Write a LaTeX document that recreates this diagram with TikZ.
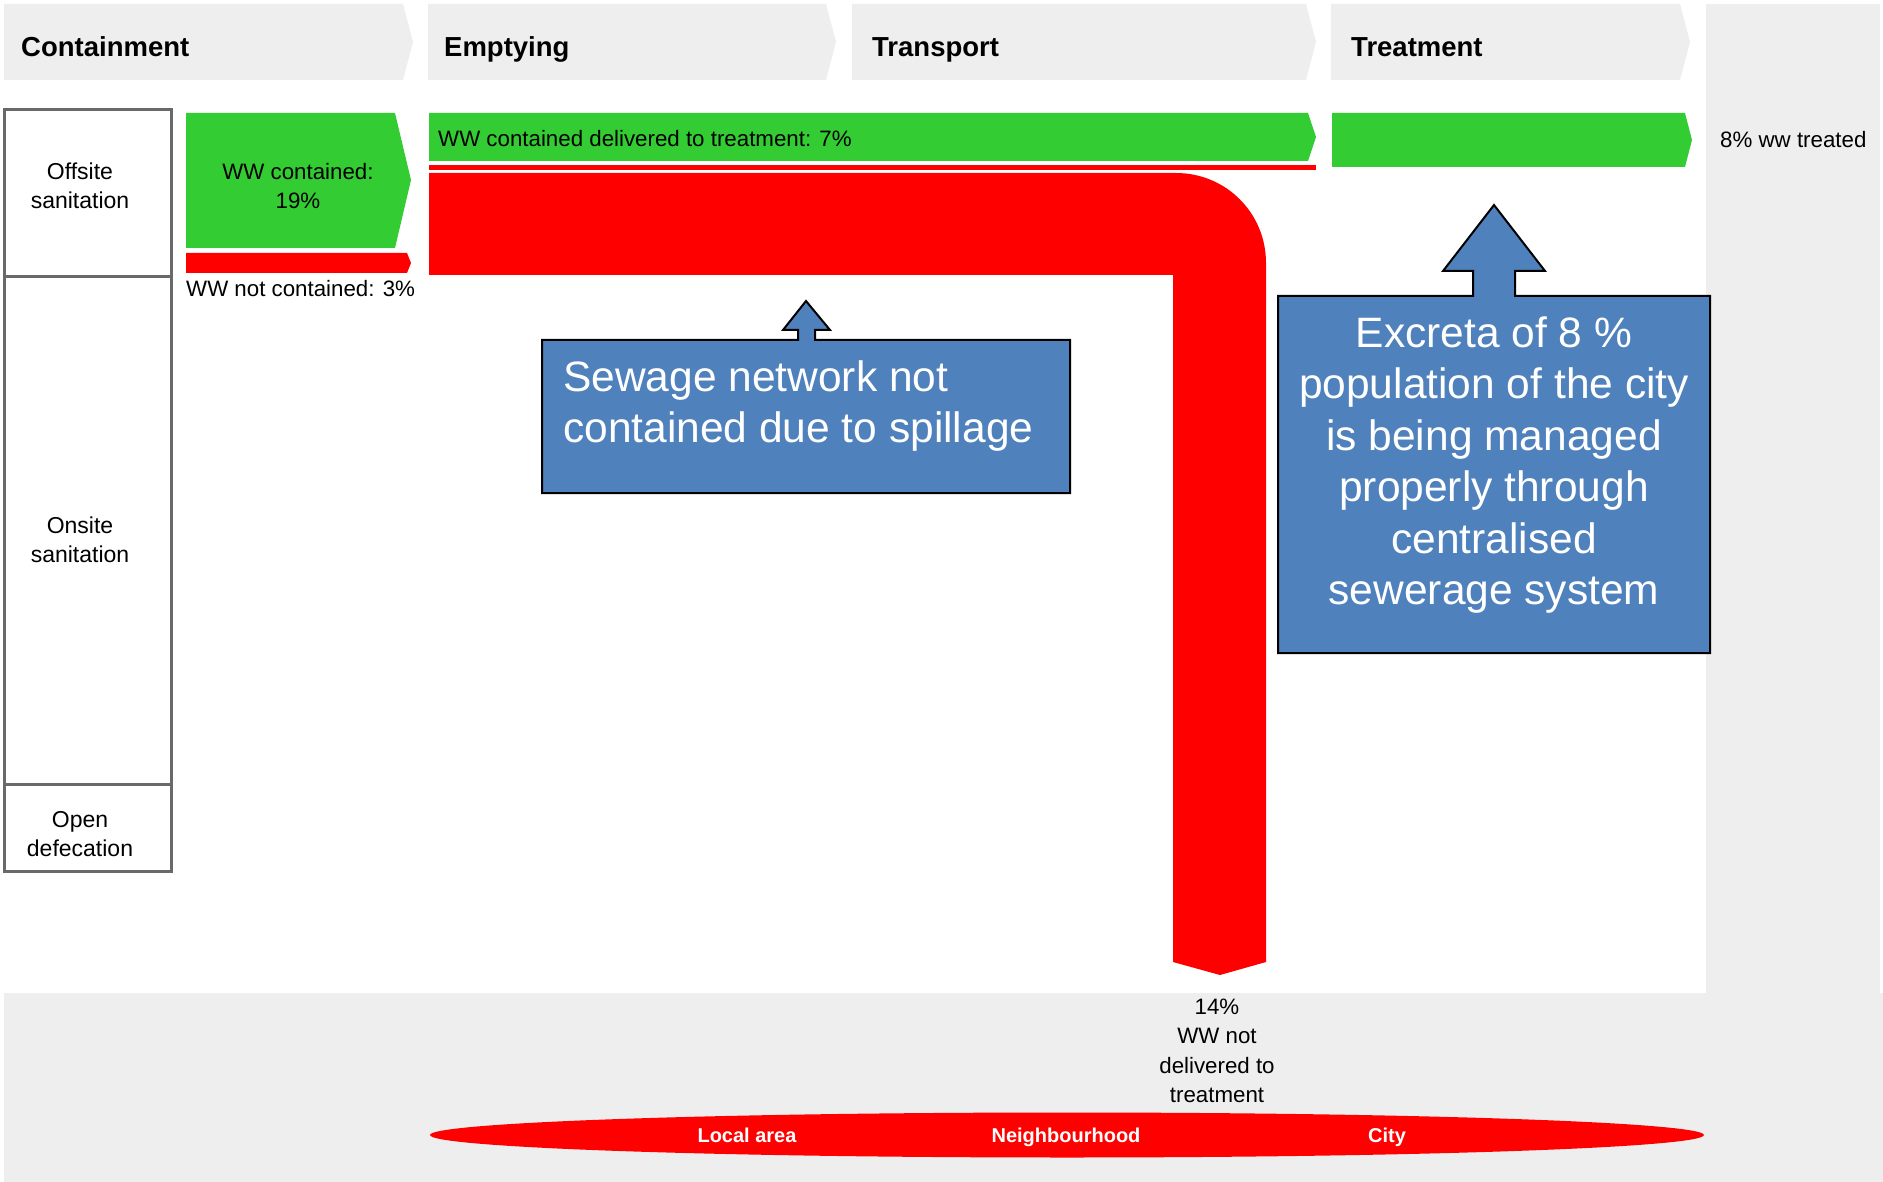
\documentclass[tikz,border=0pt]{standalone}
\usepackage{fontspec}
\setmainfont{Liberation Sans}
\definecolor{bandgray}{RGB}{238,238,238}
\definecolor{flowgreen}{RGB}{51,204,51}
\definecolor{flowred}{RGB}{255,0,0}
\definecolor{noteblue}{RGB}{79,129,189}
\definecolor{rowline}{RGB}{105,105,105}
\tikzset{
	stage/.style={fill=bandgray},
	stagetext/.style={anchor=base west, inner sep=0, font=\fontsize{27.5}{30}\selectfont\bfseries},
	rowbox/.style={draw=rowline, line width=3, fill=white},
	rowtext/.style={align=center, font=\fontsize{23}{29}\selectfont},
	flowtext/.style={inner sep=0, font=\fontsize{22.3}{29.5}\selectfont},
	note/.style={fill=noteblue, draw=black, line width=2},
	notetext/.style={text=white, inner sep=0, font=\fontsize{42.5}{51.5}\selectfont},
	areatext/.style={text=white, inner sep=0, font=\fontsize{20}{24}\selectfont\bfseries}
}
\begin{document}
\begin{tikzpicture}[x=1pt, y=-1pt]
	\useasboundingbox (0,0) rectangle (1883,1182);
	\fill [white] (0,0) rectangle (1883,1182);
	\fill [bandgray] (1706,4) rectangle (1880,1182);
	\fill [bandgray] (4,993) rectangle (1883,1182);

	\foreach \l/\r/\name/\tx in {4/403/Containment/21, 428/826/Emptying/444, 852/1306/Transport/872, 1331/1680/Treatment/1351} {
		\fill [stage] (\l,4) -- (\r,4) -- (\r+10,42) -- (\r,80) -- (\l,80) -- cycle;
		\node [stagetext] (\name) at (\tx,57) {\name};
	}

	\draw [rowbox] (4,110) rectangle (171,277);
	\draw [rowbox] (4,277) rectangle (171,784);
	\draw [rowbox] (4,784) rectangle (171,871);
	\node [rowtext] (offsite) at (80,186) {Offsite\\sanitation};
	\node [rowtext] (onsite) at (80,540) {Onsite\\sanitation};
	\node [rowtext] (open) at (80,834) {Open\\defecation};

	\fill [flowgreen] (186,113) -- (395,113) -- (411,180) -- (395,248) -- (186,248) -- cycle;
	\node [flowtext, align=center] (contained) at (298,186) {WW contained:\\19\%};
	\fill [flowred] (186,253) -- (407,253) -- (411,263) -- (407,273) -- (186,273) -- cycle;
	\node [flowtext, anchor=west] (notcontained) at (186,289) {WW not contained: 3\%};

	\fill [flowgreen] (429,113) -- (1308,113) -- (1316,137) -- (1308,161) -- (429,161) -- cycle;
	\node [flowtext, anchor=west] (delivered) at (438,139) {WW contained delivered to treatment: 7\%};
	\fill [flowred] (429,165) rectangle (1316,170);
	\fill [flowred] (429,173) -- (1176,173) .. controls (1226,173) and (1266,213) .. (1266,263) -- (1266,962) -- (1220,975) -- (1173,962) -- (1173,275) -- (429,275) -- cycle;
	\node [flowtext, align=center] (notdelivered) at (1217,1051) {14\%\\WW not\\delivered to\\treatment};

	\fill [flowgreen] (1332,113) -- (1685,113) -- (1692,140) -- (1685,167) -- (1332,167) -- cycle;
	\node [flowtext, anchor=west] (treated) at (1720,140) {8\% ww treated};

	\draw [note] (542,340) -- (798,340) -- (798,330) -- (783,330) -- (806,301) -- (830,330) -- (815,330) -- (815,340) -- (1070,340) -- (1070,493) -- (542,493) -- cycle;
	\node [notetext, anchor=west, align=left] (spillage) at (563,406) {Sewage network not\\contained due to spillage};

	\draw [note] (1278,296) -- (1473,296) -- (1473,271) -- (1443,271) -- (1494,205) -- (1545,271) -- (1515,271) -- (1515,296) -- (1710,296) -- (1710,653) -- (1278,653) -- cycle;
	\node [notetext, align=center] (managed) at (1494,465) {Excreta of 8 \%\\population of the city\\is being managed\\properly through\\centralised\\sewerage system};

	\fill [flowred] (1067,1135) ellipse [x radius=637, y radius=22.5];
	\node [areatext, anchor=base] (local) at (747,1142) {Local area};
	\node [areatext, anchor=base] (neighbourhood) at (1066,1142) {Neighbourhood};
	\node [areatext, anchor=base] (city) at (1387,1142) {City};
\end{tikzpicture}
\end{document}
